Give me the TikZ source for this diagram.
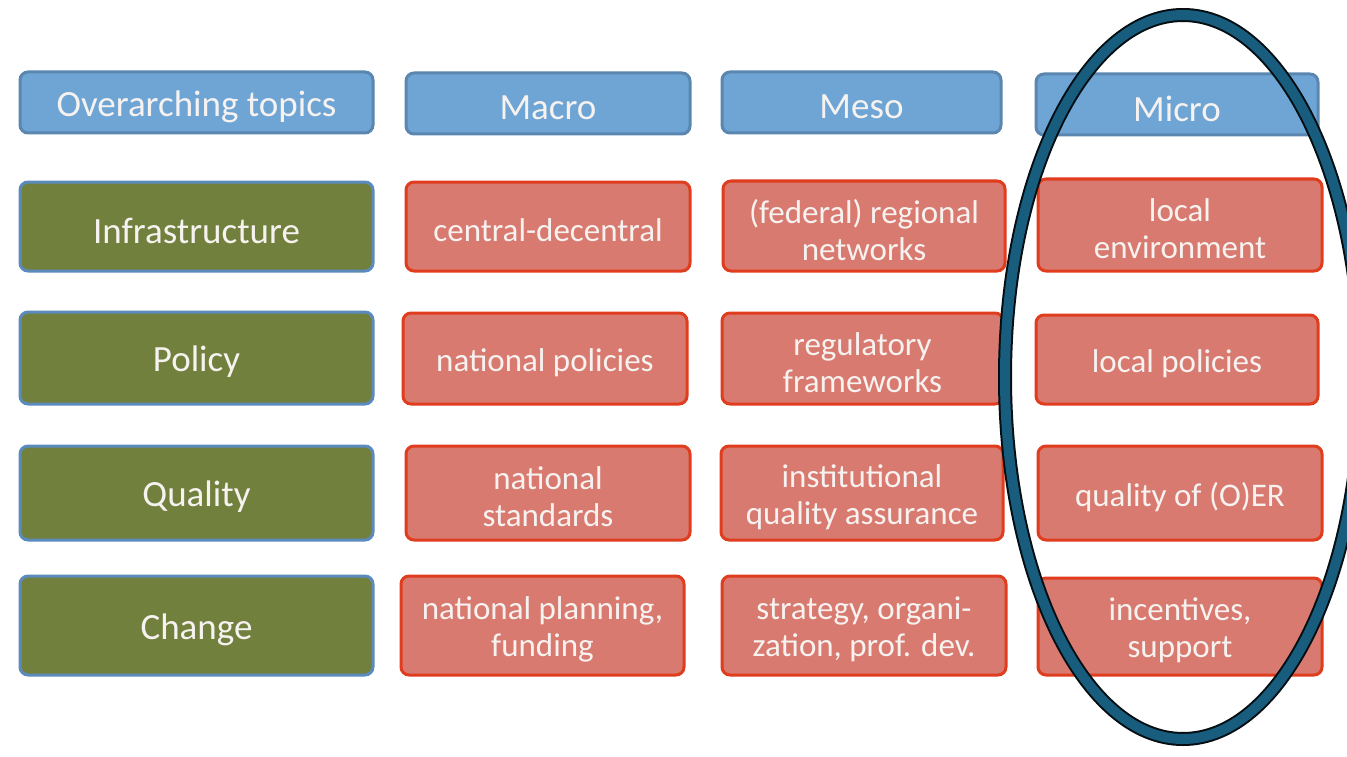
\documentclass[tikz,border=0pt]{standalone}
\usepackage{fontspec}
\setmainfont{Carlito}
\definecolor{hdrfill}{HTML}{6FA5D4}
\definecolor{hdrline}{HTML}{5A86B0}
\definecolor{grnfill}{HTML}{72803D}
\definecolor{grnline}{HTML}{5B8BBD}
\definecolor{redfill}{HTML}{D97A70}
\definecolor{redline}{HTML}{E03C1E}
\definecolor{ovalblue}{HTML}{185D7E}
\definecolor{txt}{HTML}{F6F2F0}
\tikzset{
  boxbase/.style={rounded corners=8pt, line width=3pt, inner sep=0pt},
  bigtxt/.style={align=center, text=txt, inner sep=0pt, yshift=-4pt, font=\fontsize{37}{38}\selectfont},
  smalltxt/.style={align=center, text=txt, inner sep=0pt, yshift=-4pt, font=\fontsize{33}{37}\selectfont},
  hdr/.style={boxbase, draw=hdrline, fill=hdrfill},
  topic/.style={boxbase, draw=grnline, fill=grnfill},
  cell/.style={boxbase, draw=redline, fill=redfill},
}
\newcommand{\bx}[8]{% style, textstyle, name, x1, y1, x2, y2, text
  \node[#1, minimum width={#6-#4}, minimum height={#7-#5},
    label={[#2]center:{#8}}] (#3) at ({(#4+#6)/2},{(#5+#7)/2}) {};}
\begin{document}
\begin{tikzpicture}[x=1pt,y=-1pt]
\useasboundingbox[fill=white] (0,0) rectangle (1347,757);
% header row
\bx{hdr}{bigtxt}{h1}{20}{72}{373}{133}{Overarching topics}
\bx{hdr}{bigtxt}{h2}{406}{73}{690}{134}{Macro}
\bx{hdr}{bigtxt}{h3}{722}{72}{1001}{133}{Meso}
\bx{hdr}{bigtxt}{h4}{1036}{74}{1318}{135}{Micro}
% infrastructure
\bx{topic}{bigtxt}{t1}{20}{182}{373}{271}{Infrastructure}
\bx{cell}{smalltxt}{c11}{406}{182}{690}{271}{central-decentral}
\bx{cell}{smalltxt}{c12}{723}{181}{1005}{271}{(federal) regional\\networks}
\bx{cell}{smalltxt}{c13}{1038}{179}{1322}{271}{local\\environment}
% policy
\bx{topic}{bigtxt}{t2}{20}{312}{373}{404}{Policy}
\bx{cell}{smalltxt}{c21}{403}{313}{687}{404}{national policies}
\bx{cell}{smalltxt}{c22}{722}{313}{1003}{404}{regulatory\\frameworks}
\bx{cell}{smalltxt}{c23}{1036}{315}{1318}{404}{local policies}
% quality
\bx{topic}{bigtxt}{t3}{20}{446}{373}{540}{Quality}
\bx{cell}{smalltxt}{c31}{406}{446}{690}{540}{national\\standards}
\bx{cell}{smalltxt}{c32}{721}{446}{1003}{540}{institutional\\quality assurance}
\bx{cell}{smalltxt}{c33}{1038}{446}{1322}{540}{quality of (O)ER}
% change
\bx{topic}{bigtxt}{t4}{20}{576}{373}{675}{Change}
\bx{cell}{smalltxt}{c41}{401}{576}{684}{675}{national planning,\\funding}
\bx{cell}{smalltxt}{c42}{722}{576}{1006}{675}{strategy, organi-\\zation, prof. dev.}
\bx{cell}{smalltxt}{c43}{1038}{578}{1322}{675}{incentives,\\support}
% oval
\draw[line width=14pt, black!85!ovalblue] (1183,377) ellipse [x radius=178, y radius=362];
\draw[line width=10pt, ovalblue] (1183,377) ellipse [x radius=178, y radius=362];
\end{tikzpicture}
\end{document}
